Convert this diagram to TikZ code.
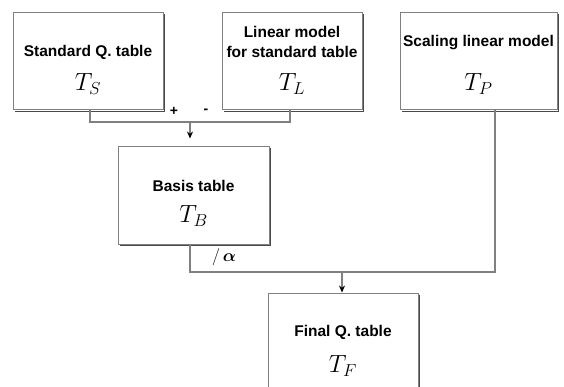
\documentclass[tikz,border=0pt]{standalone}
\usepackage{amsmath,amssymb,bm}
\usepackage{fontspec}
\setmainfont{Liberation Sans}
\usetikzlibrary{arrows.meta}
\definecolor{linegray}{HTML}{808080}
\definecolor{shadowgray}{HTML}{4A4A4A}
\tikzset{
  box/.style={draw=linegray, line width=1pt, fill=white, inner sep=0pt,
    minimum height=97pt},
  shade/.style={draw=shadowgray, line width=1.6pt},
  title/.style={font=\bfseries\fontsize{15.5}{18}\selectfont, align=center, inner sep=0pt},
  sym/.style={font=\fontsize{26}{30}\selectfont, inner sep=0pt},
  wire/.style={draw=linegray, line width=1.1pt},
  arr/.style={wire, -{Stealth[length=7pt,width=6pt,color=black]}},
  sign/.style={font=\bfseries\fontsize{14}{16}\selectfont, inner sep=0pt},
}
\newcommand{\boxshade}[1]{\draw[shade] ([xshift=1pt,yshift=-2pt]#1.north east) -- ([xshift=1pt,yshift=-1pt]#1.south east) -- ([xshift=2pt,yshift=-1pt]#1.south west);}
\begin{document}
\begin{tikzpicture}[x=1pt, y=-1pt]
\useasboundingbox[fill=white] (0,0) rectangle (564,387);
% boxes
\node[box, minimum width=150pt] (TS) at (88,61.5) {};
\node[box, minimum width=140pt] (TL) at (292,61.5) {};
\node[box, minimum width=157pt] (TP) at (478.5,61.5) {};
\node[box, minimum width=151pt] (TB) at (193.5,195.5) {};
\node[box, minimum width=150pt] (TF) at (343,341.5) {};
\boxshade{TS}\boxshade{TL}\boxshade{TP}\boxshade{TB}\boxshade{TF}
% texts
\node[title] (tS) at (88,52) {Standard Q. table};
\node[sym] (sS) at (88,84) {$T_S$};
\node[title] (tL1) at (292,32) {Linear model};
\node[title] (tL2) at (292,52) {for standard table};
\node[sym] (sL) at (292,84) {$T_L$};
\node[title] (tP) at (478.5,43) {Scaling linear model};
\node[sym] (sP) at (478.5,84) {$T_P$};
\node[title] (tB) at (193.5,186) {Basis table};
\node[sym] (sB) at (193.5,216) {$T_B$};
\node[title] (tF) at (343,332) {Final Q. table};
\node[sym] (sF) at (343,366) {$T_F$};
% connectors
\coordinate (j1) at (190,122);
\coordinate (j2) at (342,272);
\draw[wire] ([xshift=2pt]TS.south) |- (j1) -| ([xshift=-2pt]TL.south);
\draw[arr, shorten >=8pt] (j1) -- (j1 |- TB.north);
\draw[wire] ([xshift=-3.5pt]TB.south) |- (j2) -| ([xshift=16.5pt]TP.south);
\draw[arr] (j2) -- (j2 |- TF.north);
% labels
\node[sign] (plus) at (174,111) {+};
\node[sign] (minus) at (206,111) {-};
\node[font=\fontsize{16}{18}\selectfont, inner sep=0pt] (alpha) at (224,257) {$/\,\bm{\alpha}$};
\end{tikzpicture}
\end{document}
